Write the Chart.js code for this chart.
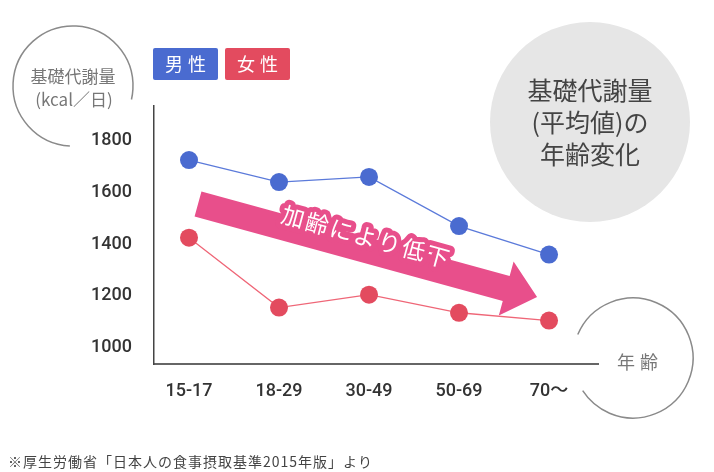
<!DOCTYPE html>
<html>
<head>
<meta charset="utf-8">
<script src="https://cdn.jsdelivr.net/npm/chart.js@4/dist/chart.umd.min.js"></script>
<style>
  html, body { margin: 0; padding: 0; background: #fff; }
  #wrap { position: relative; width: 714px; height: 472px; }
</style>
</head>
<body>
<div id="wrap"><canvas id="chart" width="714" height="472"></canvas></div>
<script>
const ageGroups = ["15-17", "18-29", "30-49", "50-69", "70〜"];
const maleValues = [1725, 1640, 1660, 1470, 1360];
const femaleValues = [1425, 1155, 1205, 1135, 1105];
const yTicks = [1000, 1200, 1400, 1600, 1800];
const seriesNames = ["男性", "女性"];

const JP = "'Noto Sans CJK JP', sans-serif";
const NUM = "Roboto, 'Noto Sans CJK JP', sans-serif";
const blue = "#4a6bd0";
const red = "#e34b5f";
const pink = "#e84f8b";

function toPoints(values) {
    return values.map((v, i) => ({ x: i, y: v }));
}

function spacing(ctx, px) {
    if ("letterSpacing" in ctx) ctx.letterSpacing = px + "px";
}

// rings, bubble, arrow and legend around the plot
const decor = {
    id: "decor",
    beforeDatasetsDraw(chart) {
        const ctx = chart.ctx;
        const xs = chart.scales.x, ys = chart.scales.y;
        ctx.save();

        // grey title bubble
        ctx.fillStyle = "#e6e6e6";
        ctx.beginPath();
        ctx.arc(590, 122, 100, 0, Math.PI * 2);
        ctx.fill();
        ctx.fillStyle = "#444";
        ctx.font = "400 25px " + JP;
        ctx.textAlign = "center";
        ctx.textBaseline = "middle";
        ctx.fillText("基礎代謝量", 590, 90);
        ctx.fillText("(平均値)の", 590, 122);
        ctx.fillText("年齢変化", 590, 154);

        // y axis title ring
        ctx.strokeStyle = "#8a8a8a";
        ctx.lineWidth = 1.5;
        ctx.beginPath();
        ctx.arc(73, 86, 60, 93 * Math.PI / 180, 373 * Math.PI / 180);
        ctx.stroke();
        ctx.fillStyle = "#777";
        ctx.font = "400 17px " + JP;
        ctx.fillText("基礎代謝量", 73, 77);
        ctx.fillText("(kcal／日)", 74, 100);

        // x axis title ring
        ctx.beginPath();
        ctx.arc(633, 358, 60, 203 * Math.PI / 180, 507 * Math.PI / 180);
        ctx.stroke();
        ctx.font = "400 18px " + JP;
        spacing(ctx, 5);
        ctx.fillText("年齢", 640, 362);
        spacing(ctx, 0);

        // trend arrow, anchored in data units
        const sx = xs.getPixelForValue(0.1), sy = ys.getPixelForValue(1555);
        const tx = xs.getPixelForValue(3.867), ty = ys.getPixelForValue(1196);
        const ang = Math.atan2(ty - sy, tx - sx);
        const len = Math.hypot(tx - sx, ty - sy);
        const headLen = 32, half = 13, headHalf = 28;
        ctx.translate(sx, sy);
        ctx.rotate(ang);
        ctx.fillStyle = pink;
        ctx.beginPath();
        ctx.moveTo(0, -half);
        ctx.lineTo(len - headLen, -half);
        ctx.lineTo(len - headLen, -headHalf);
        ctx.lineTo(len, 0);
        ctx.lineTo(len - headLen, headHalf);
        ctx.lineTo(len - headLen, half);
        ctx.lineTo(0, half);
        ctx.closePath();
        ctx.fill();

        ctx.font = "400 23px " + JP;
        spacing(ctx, 2);
        ctx.lineJoin = "round";
        ctx.lineWidth = 10;
        ctx.strokeStyle = pink;
        ctx.strokeText("加齢により低下", 171, -13);
        ctx.fillStyle = "#fff";
        ctx.fillText("加齢により低下", 171, -13);
        ctx.restore();
    },
    afterDraw(chart) {
        const ctx = chart.ctx;
        ctx.save();
        // legend chips from the datasets
        chart.data.datasets.forEach((ds, i) => {
            const x = 153 + i * 72, y = 48, w = 65, h = 32;
            ctx.fillStyle = ds.pointBackgroundColor;
            ctx.beginPath();
            ctx.roundRect(x, y, w, h, 2);
            ctx.fill();
            ctx.fillStyle = "#fff";
            ctx.font = "400 18px " + JP;
            ctx.textAlign = "center";
            ctx.textBaseline = "middle";
            spacing(ctx, 5);
            ctx.fillText(ds.label, x + w / 2 + 2.5, y + h / 2);
        });

        // source note
        spacing(ctx, 1);
        ctx.fillStyle = "#444";
        ctx.font = "400 14px " + JP;
        ctx.textAlign = "left";
        ctx.textBaseline = "middle";
        ctx.fillText("※厚生労働省「日本人の食事摂取基準2015年版」より", 8, 462);
        ctx.restore();
    }
};

const ctx = document.getElementById("chart").getContext("2d");
const chart = new Chart(ctx, {
    type: "line",
    data: {
        datasets: [{
            label: seriesNames[0],
            data: toPoints(maleValues),
            borderColor: "#5b7ada",
            borderWidth: 1.3,
            pointBackgroundColor: blue,
            pointBorderWidth: 0,
            pointRadius: 9,
            tension: 0
        }, {
            label: seriesNames[1],
            data: toPoints(femaleValues),
            borderColor: "#ef6677",
            borderWidth: 1.3,
            pointBackgroundColor: red,
            pointBorderWidth: 0,
            pointRadius: 9,
            tension: 0
        }]
    },
    options: {
        responsive: false,
        animation: false,
        devicePixelRatio: 1,
        layout: { padding: { top: 106, right: 116, left: 0, bottom: 0 } },
        plugins: {
            legend: { display: false },
            tooltip: { enabled: false }
        },
        scales: {
            x: {
                type: "linear",
                min: -0.389,
                max: 4.544,
                afterBuildTicks: s => { s.ticks = ageGroups.map((_, i) => ({ value: i })); },
                afterFit: s => { s.height = 108; },
                grid: { display: false, drawTicks: false },
                border: { color: "#666", width: 2 },
                ticks: {
                    callback: v => ageGroups[v],
                    autoSkip: false,
                    maxRotation: 0,
                    padding: 17,
                    color: "#333",
                    font: { family: NUM, size: 18, weight: "500" }
                }
            },
            y: {
                min: 937,
                max: 1934,
                afterBuildTicks: s => { s.ticks = yTicks.map(v => ({ value: v })); },
                afterFit: s => { s.width = 154; },
                grid: { display: false, drawTicks: false },
                border: { color: "#444", width: 1.5 },
                ticks: {
                    callback: v => String(v),
                    padding: 22,
                    color: "#333",
                    font: { family: NUM, size: 18, weight: "500" }
                }
            }
        }
    },
    plugins: [decor]
});
</script>
</body>
</html>
